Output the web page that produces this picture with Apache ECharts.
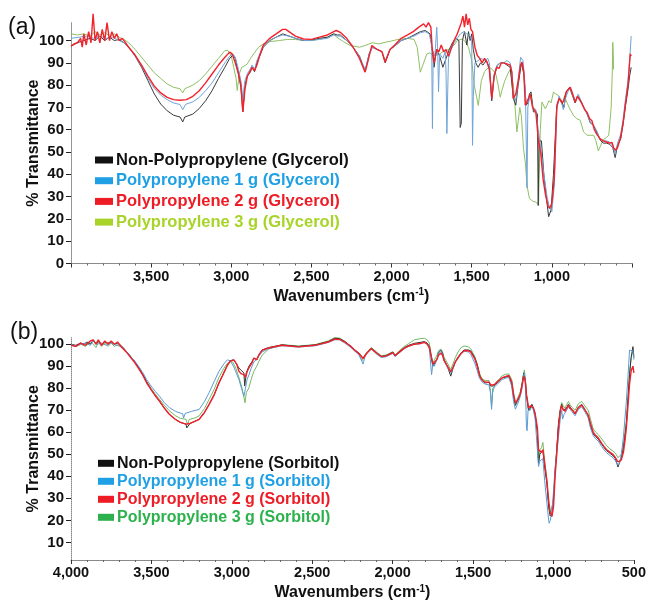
<!DOCTYPE html>
<html>
<head>
<meta charset="utf-8">
<script src="https://cdn.jsdelivr.net/npm/echarts@6/dist/echarts.min.js"></script>
<style>
html,body{margin:0;padding:0;background:#fff;}
#c{width:649px;height:602px;}
</style>
</head>
<body>
<div id="c"></div>
<script>
// ---------- Tick labels ----------
const yTicksA = [0,10,20,30,40,50,60,70,80,90,100];
const yTicksB = [10,20,30,40,50,60,70,80,90,100];

// ---------- Series names ----------
const namesA = ['Non-Polypropylene (Glycerol)','Polypropylene 1 g (Glycerol)','Polypropylene 2 g (Glycerol)','Polypropylene 3 g (Glycerol)'];
const namesB = ['Non-Polypropylene (Sorbitol)','Polypropylene 1 g (Sorbitol)','Polypropylene 2 g (Sorbitol)','Polypropylene 3 g (Sorbitol)'];

// ---------- Panel (a): Glycerol  [wavenumber, %T] ----------
const glyNonPP = [[4000,97.5],[3960,99],[3920,100],[3880,101],[3850,100],[3820,102],[3790,100],[3760,101.5],[3730,100],[3700,100.5],[3670,99],[3640,97],[3600,93],[3560,88],[3520,82],[3480,76],[3440,71.5],[3400,68.5],[3360,66.5],[3320,65.7],[3303,63.5],[3290,65.7],[3240,67],[3200,69.5],[3160,73],[3120,77.5],[3080,83],[3040,88],[3010,92],[2990,93.5],[2975,92],[2955,85],[2940,79],[2928,68],[2915,80],[2900,84],[2880,86],[2870,88],[2855,86],[2840,90],[2800,97],[2760,100],[2720,101.5],[2680,103],[2640,102],[2600,101],[2550,100],[2500,100.2],[2450,101],[2400,101.5],[2360,103],[2340,102.5],[2320,102.5],[2280,100],[2240,97],[2200,93],[2165,86],[2140,94],[2120,97],[2090,96],[2060,95],[2040,90],[2010,96],[1980,97.5],[1940,100],[1900,101],[1860,102.5],[1820,104],[1790,104.5],[1760,103],[1745,95],[1735,88],[1720,96],[1700,93],[1680,88],[1660,92],[1640,96],[1620,99],[1600,101],[1580,100],[1572,61],[1565,63],[1558,100],[1545,104],[1530,98],[1520,104],[1510,100],[1500,103],[1490,96],[1475,90],[1460,88],[1445,90],[1430,89],[1410,91],[1390,88],[1375,73],[1360,84],[1340,89],[1320,90],[1300,90],[1280,89],[1260,88],[1240,74],[1225,71],[1210,80],[1190,90],[1175,85],[1160,71],[1150,72],[1140,76],[1130,77],[1115,68],[1100,68],[1090,67],[1085,26],[1080,55],[1065,55],[1050,40],[1035,30],[1020,21],[1005,24],[990,40],[970,70],[955,74],[940,73],[925,70],[910,77],[890,79],[870,75],[855,72],[840,75],[825,74],[800,70],[780,67],[760,63],[740,62],[720,59],[700,55.5],[680,54],[660,54],[640,53.5],[620,52],[605,47.5],[590,53],[570,56],[555,63],[540,71],[525,78],[515,84],[505,88]];

const glyPP1 = [[4000,101],[3950,101.5],[3900,102],[3860,101],[3820,102],[3780,101],[3740,101.5],[3700,100],[3670,99],[3640,97],[3600,93],[3560,88.5],[3520,83],[3480,78.5],[3440,75.5],[3400,73.5],[3360,72],[3320,71.3],[3303,69],[3285,71.4],[3240,72.5],[3200,74.5],[3160,77.5],[3120,81],[3080,85.5],[3040,90],[3010,93],[2990,94],[2975,92.5],[2955,87],[2940,82],[2928,74],[2915,82],[2900,85],[2880,87.5],[2870,89],[2855,87],[2840,91],[2800,97.5],[2760,100],[2720,101.5],[2680,102.5],[2640,102],[2600,101],[2550,100],[2500,100],[2450,100.5],[2400,101],[2360,102.5],[2340,102],[2320,102],[2280,100],[2240,97],[2200,93],[2165,87],[2140,94],[2120,97],[2090,96],[2060,95],[2040,91],[2010,96],[1980,97.5],[1940,100],[1900,101],[1860,102],[1820,103.5],[1790,104],[1765,103],[1750,98],[1745,60.5],[1740,95],[1730,93],[1718,106],[1712,95],[1707,77],[1700,94],[1680,92],[1665,95],[1660,85],[1655,58.3],[1650,76],[1645,92],[1630,96],[1610,99],[1590,101],[1570,103],[1550,104],[1530,103],[1510,102],[1500,100],[1495,53],[1490,75],[1480,90],[1460,91],[1440,92],[1420,91],[1400,92],[1390,90],[1375,75],[1360,85],[1340,89],[1320,90],[1300,90],[1280,91],[1260,90],[1248,85],[1240,76],[1225,73],[1210,82],[1195,92.5],[1180,91],[1165,78],[1155,34],[1150,70],[1135,76],[1120,70],[1100,69],[1085,60],[1070,52],[1050,40],[1030,30],[1015,25],[1000,23.2],[985,35],[970,68],[955,75],[940,72],[928,69],[915,74],[895,78],[880,78],[865,74],[850,73],[835,76],[820,73],[800,70],[780,67],[760,63.5],[740,62],[720,59.5],[700,56],[680,55],[660,55],[640,54.5],[620,53],[605,49],[590,54],[570,58],[555,65],[540,74],[525,82],[515,91],[505,102]];

const glyPP2 = [[4000,97.5],[3980,98.5],[3960,99],[3940,101],[3930,97],[3920,103],[3905,98],[3890,104],[3875,99],[3862,112],[3850,100],[3835,104],[3820,99],[3805,105],[3790,100],[3775,108],[3760,100],[3745,104],[3730,101],[3715,103],[3700,100],[3680,101],[3660,99],[3640,97],[3600,93.5],[3560,89],[3520,84],[3480,79.5],[3440,76.5],[3400,74.5],[3360,73.5],[3320,73.2],[3280,73.5],[3240,75],[3200,77.5],[3160,81],[3120,85],[3080,89],[3040,92.5],[3010,94.8],[2995,94],[2975,90],[2955,85],[2940,80],[2928,68],[2915,78],[2900,84],[2885,86],[2870,88],[2855,86.5],[2840,89],[2820,94],[2800,98],[2760,101],[2720,103],[2680,105],[2660,105],[2640,104],[2600,102],[2550,100.7],[2500,100.5],[2450,101.5],[2400,102.5],[2360,104],[2345,104.5],[2320,103.7],[2280,101],[2240,97],[2200,92],[2165,85.8],[2150,90],[2123,97.8],[2090,96],[2060,95],[2040,90.3],[2010,96],[1980,98],[1940,101],[1900,102.5],[1865,104],[1830,106],[1800,107.5],[1785,106],[1770,108],[1755,106],[1747,97],[1735,90],[1718,96],[1705,95],[1690,98],[1675,95],[1660,96],[1645,93],[1630,96],[1610,100],[1590,103],[1575,106],[1565,108],[1555,111],[1545,106],[1535,112],[1525,107],[1515,110],[1505,105],[1495,104],[1480,97],[1465,93.3],[1450,92],[1435,90],[1420,92],[1405,90.5],[1390,87],[1375,74],[1360,84],[1345,88],[1330,87.5],[1315,90],[1300,90],[1280,89.5],[1260,89],[1250,86],[1241,74],[1225,76],[1210,82],[1195,89],[1186,90.3],[1175,86],[1166,71],[1155,71],[1140,75],[1135,76.1],[1120,70],[1100,68],[1090,60],[1083,54.5],[1070,50],[1055,38],[1040,31],[1025,26],[1014,24.7],[1000,27],[985,38],[969,70.9],[955,74],[947,73.9],[935,72],[927,73],[910,77],[885,79.1],[870,76],[854,72.4],[840,75],[833,75.4],[815,72],[795,69],[781,67.9],[765,65],[750,64],[735,60],[720,58],[700,56],[680,55],[660,54.5],[640,54],[625,54.3],[615,52],[604,50.8],[590,52],[573,56],[555,63],[542,70.9],[525,80],[511,94],[505,93]];

const glyPP3 = [[4000,103],[3960,102.5],[3920,103],[3880,102],[3850,104],[3820,102.5],[3790,103.5],[3760,102],[3730,103],[3700,101.5],[3670,100.5],[3640,99],[3600,96],[3560,92.5],[3520,89],[3480,85.5],[3440,83],[3400,80.5],[3360,79],[3320,78.4],[3303,76.5],[3290,78.4],[3240,80],[3200,82],[3160,85],[3120,88.5],[3080,92],[3040,95.5],[3020,95.5],[3000,93],[2985,88],[2970,83],[2963,77.6],[2950,85],[2935,88],[2920,88.5],[2900,89.5],[2880,92],[2860,94],[2830,97],[2800,98.5],[2760,99.5],[2700,100],[2650,100.5],[2600,100.5],[2550,100],[2500,100],[2450,100.7],[2400,101.5],[2363,103],[2342,101.5],[2300,99.5],[2258,97.8],[2200,97],[2165,97.8],[2120,99],[2080,98.5],[2040,99.2],[2000,99.8],[1960,100.5],[1936,100.7],[1900,101],[1860,100.5],[1840,97],[1821,85.8],[1800,90],[1780,94],[1760,94.5],[1740,93],[1720,93.5],[1700,94],[1680,95],[1660,95.5],[1634,96.3],[1610,98],[1590,100],[1560,100.7],[1540,99.5],[1520,97],[1500,91],[1484,80],[1470,75],[1459,70.9],[1440,82],[1420,86],[1405,87.3],[1390,88],[1370,87],[1350,85],[1335,80],[1322,74.6],[1310,78],[1295,81.7],[1275,85],[1260,87],[1240,79.9],[1218,59],[1200,70],[1190,66],[1177,51.5],[1165,45],[1155,35],[1140,29.2],[1120,28],[1100,27.5],[1083,26.5],[1072,60],[1062,72.4],[1041,69.4],[1030,71],[1018,73],[1005,72],[990,76.9],[975,76],[958,75.4],[940,73],[927,72.4],[921,75],[905,72],[885,69],[865,66.4],[845,65],[823,64.2],[802,59],[780,57.5],[760,57.5],[739,57.5],[725,55],[710,50.5],[695,53],[680,55.5],[660,56.5],[645,57.5],[630,70],[623,86],[620,99.2],[617,95],[615,87]];

// ---------- Panel (b): Sorbitol  [wavenumber, %T] ----------
const sorNonPP = [[4000,100],[3970,99.5],[3940,100.5],[3920,100],[3900,101],[3880,100],[3862,102],[3845,100],[3830,101.5],[3810,100],[3790,101],[3770,100.5],[3750,101],[3730,100],[3710,100.5],[3690,99.5],[3670,98],[3656,96.7],[3630,94.5],[3605,92.2],[3580,89.5],[3553,86.2],[3530,83],[3502,79.4],[3475,76.5],[3450,74.2],[3420,71],[3389,68.2],[3350,65.8],[3320,64.5],[3285,63.7],[3280,62],[3260,64],[3230,65],[3203,65.9],[3170,69],[3141,72.7],[3110,77],[3080,82.4],[3050,87],[3028,90.5],[3010,92.5],[2990,92.9],[2975,91.5],[2956,89.2],[2940,88],[2925,87],[2920,81],[2910,87],[2894,90],[2875,92],[2863,93.7],[2845,93],[2833,95],[2812,97.4],[2771,98.5],[2689,99.7],[2586,99],[2482,99.7],[2400,101.2],[2360,102.7],[2349,103.4],[2330,102.5],[2297,101.2],[2260,99],[2235,97.4],[2210,96],[2184,93.7],[2160,96],[2133,98.2],[2100,96],[2071,94.4],[2045,94.8],[2030,95.2],[1999,96.4],[1985,94.8],[1960,96.5],[1927,98.5],[1900,99.5],[1865,100.4],[1830,100.8],[1803,101.2],[1785,100.5],[1772,99],[1760,94],[1750,90],[1741,89.2],[1725,93],[1715,96],[1701,97.4],[1690,96],[1680,93],[1660,90],[1639,85.5],[1625,89],[1610,92],[1597,93.7],[1575,96],[1556,97.4],[1530,97.4],[1515,97],[1490,94],[1474,90.7],[1460,86],[1453,84.7],[1440,83.2],[1422,82.4],[1410,82.8],[1401,82.7],[1390,81],[1385,80.2],[1375,81],[1361,81.7],[1340,83],[1319,84.7],[1300,85],[1278,85.5],[1260,82],[1248,76],[1237,72.2],[1225,74],[1212,76],[1206,77.2],[1195,82],[1185,87],[1181,87.7],[1175,84],[1168,76],[1164,75],[1155,70],[1145,71],[1134,72.7],[1125,71],[1114,68.2],[1100,60],[1093,45.7],[1085,50],[1075,50],[1066,52],[1055,44],[1041,36.7],[1030,26],[1021,22],[1010,23],[1000,30],[990,42.7],[980,52],[969,63.7],[958,70],[949,72.7],[940,70],[928,69.7],[918,71],[907,72.7],[897,71.5],[887,70.5],[875,70],[866,68.3],[855,70],[845,71.5],[835,72],[825,72.7],[810,71],[795,69],[784,67.4],[770,63],[753,59.2],[737,58],[722,56.9],[700,54.5],[685,53],[671,51.7],[650,50.5],[630,49.4],[615,48],[599,44.2],[590,46],[578,48.7],[565,53],[556,58],[547,63.7],[537,75],[527,86.2],[517,94],[506,98.9],[500,94]];

const sorPP1 = [[4000,100],[3970,99],[3940,100],[3910,100.5],[3880,99.5],[3862,101.5],[3840,100],[3810,100.5],[3780,99.5],[3750,100.5],[3720,99.5],[3690,99],[3670,97.5],[3656,96.7],[3630,94.5],[3605,92.5],[3580,90],[3553,87],[3530,84],[3502,81],[3475,78.5],[3450,76.4],[3420,73.5],[3389,71.2],[3350,69.5],[3320,68.7],[3306,68.5],[3300,66.5],[3290,68.6],[3250,69.5],[3203,70.4],[3170,74],[3141,78],[3110,83],[3080,87.7],[3050,91],[3028,92.9],[3010,92.5],[2990,90],[2970,86.5],[2956,84],[2940,80],[2925,76.4],[2915,80],[2905,84],[2894,86],[2880,89],[2863,92],[2845,93],[2833,94.5],[2812,96.5],[2771,98],[2689,99.3],[2586,98.7],[2482,99.3],[2400,100.8],[2360,102],[2349,102.8],[2330,102],[2297,100.5],[2260,98.5],[2235,96.8],[2210,95.2],[2190,92],[2184,91],[2170,95],[2133,97.8],[2100,95.5],[2071,94],[2045,94.2],[2030,94.7],[1999,95.8],[1985,94.3],[1960,96],[1927,98],[1900,99],[1865,100],[1830,100.2],[1803,100.8],[1785,100],[1772,98],[1758,86.2],[1748,92],[1741,90],[1725,93],[1715,96],[1701,97],[1690,95.5],[1680,92.5],[1660,89.5],[1639,87],[1625,89],[1610,92],[1597,93.2],[1575,95.5],[1556,96.8],[1530,96.5],[1515,95.5],[1490,91.5],[1474,88],[1460,84.5],[1453,83.7],[1440,82.5],[1422,81.8],[1410,82],[1401,81.5],[1392,78],[1385,70.4],[1378,80],[1361,81],[1340,82.5],[1319,84],[1300,84.5],[1278,85],[1260,81],[1248,74],[1237,70.5],[1225,72.5],[1212,75],[1206,76.5],[1195,80],[1185,86],[1181,87],[1175,82],[1168,62],[1164,60.7],[1158,70],[1145,70],[1134,72],[1125,70],[1114,66],[1100,52],[1093,44.5],[1085,47],[1075,47],[1066,48],[1055,38],[1041,28],[1030,20],[1027,18.7],[1020,20],[1010,24],[1000,33],[990,44],[980,50],[969,58],[958,66],[949,70],[943,66],[935,68],[928,68.5],[918,70],[907,71.5],[897,70.5],[887,69.5],[875,69],[866,67.5],[855,69],[845,70.5],[835,71],[825,71.5],[810,70],[795,68],[784,66.5],[770,62],[753,58.5],[737,57],[722,56],[700,53.5],[685,52],[671,50.8],[650,49.5],[630,48.5],[615,47],[599,45],[590,46],[578,50],[565,58],[556,66],[547,74],[537,85],[527,97.3],[517,98],[506,97],[500,93]];

const sorPP2 = [[4000,99.5],[3970,99],[3940,100.5],[3910,99.5],[3880,101.5],[3862,102],[3845,100],[3830,102],[3810,99.5],[3790,101.5],[3770,100],[3750,101.5],[3730,100],[3710,101],[3690,99],[3670,97.5],[3656,96.5],[3630,94],[3605,91.8],[3580,89],[3553,85.8],[3530,82.5],[3502,79.4],[3475,76.5],[3450,74.2],[3420,71],[3389,68.2],[3350,65.8],[3320,64.5],[3285,63.7],[3260,64],[3230,65],[3203,65.9],[3170,69],[3141,72.7],[3110,77],[3080,82.4],[3050,87],[3028,90.3],[3010,92.3],[2987,92.9],[2970,91],[2956,87.7],[2940,86.5],[2925,86.2],[2915,85],[2905,87.5],[2894,89.2],[2875,91.5],[2863,93.7],[2845,93],[2833,95],[2812,97.2],[2771,98.3],[2689,99.5],[2586,98.8],[2482,99.5],[2400,101],[2360,102.3],[2349,102.7],[2330,102.2],[2297,101],[2260,99],[2235,97.2],[2210,95.8],[2184,93.5],[2160,96],[2133,98],[2100,96],[2071,94.4],[2045,94.6],[2030,95],[1999,96.2],[1985,94.8],[1960,96.3],[1927,98.2],[1900,99.2],[1865,100],[1830,100.3],[1803,100.8],[1785,100],[1772,98.5],[1760,94.5],[1750,91],[1741,90.7],[1725,93],[1715,95],[1701,96],[1690,95],[1680,92.5],[1660,90],[1639,87.5],[1625,89.5],[1610,92],[1597,93.5],[1575,95.8],[1556,97],[1530,97],[1515,96.5],[1490,93.5],[1474,90],[1460,86],[1453,84.7],[1440,83.5],[1422,82.8],[1410,83],[1401,82.8],[1390,81.5],[1385,81],[1375,81.5],[1361,82],[1340,83.5],[1319,84.8],[1300,85.3],[1278,85.8],[1260,83],[1248,77],[1237,73.5],[1225,74.5],[1212,76.5],[1206,77.5],[1195,81.5],[1185,85.5],[1181,86.2],[1175,83],[1168,77],[1164,75.5],[1155,71],[1145,72],[1134,72.7],[1125,71.2],[1114,68.5],[1100,62],[1093,52],[1085,51.5],[1075,51],[1066,52],[1055,46],[1041,38],[1030,29],[1021,24],[1010,21.7],[1000,26],[990,40],[980,50],[969,62],[958,69.5],[949,72.2],[940,70.5],[928,69.5],[918,71],[907,72.3],[897,71],[887,70.2],[875,69.5],[866,68.5],[855,70],[845,71.2],[835,72],[825,72.3],[810,70.8],[795,69],[784,67.8],[770,64],[753,60],[737,58.5],[722,57.5],[700,55],[685,53.5],[671,52.2],[650,51],[630,50],[615,48.5],[599,46.5],[590,46],[578,47.5],[565,51],[556,56],[547,62],[537,72],[527,82],[517,88],[506,90],[500,87]];

const sorPP3 = [[4000,99.5],[3970,99],[3940,100],[3910,99],[3880,101],[3862,100],[3845,98.5],[3830,101],[3810,99],[3790,100.5],[3770,99],[3750,100.5],[3730,99],[3710,100],[3690,99],[3670,97.5],[3656,96.5],[3630,94.5],[3605,92.2],[3580,89.5],[3553,86.2],[3530,83],[3502,80],[3475,77.3],[3450,75],[3420,72.3],[3389,69.8],[3350,67.5],[3320,66.3],[3285,65.9],[3275,63.5],[3265,65.8],[3230,66.5],[3203,67.5],[3170,70.8],[3141,75],[3110,79.5],[3080,85],[3050,89],[3028,91.3],[3010,92],[2995,92],[2975,89],[2956,85],[2940,81],[2925,76],[2918,73.4],[2910,78],[2894,80.2],[2880,84],[2863,87.7],[2845,90],[2833,92],[2812,95],[2771,97.8],[2689,99.8],[2586,99.2],[2482,99.8],[2400,101.5],[2360,103],[2349,103.5],[2330,102.8],[2297,101.3],[2260,99],[2235,97.2],[2210,95.5],[2190,92.5],[2184,92],[2170,95.5],[2133,98.5],[2100,96.5],[2071,94.8],[2045,95],[2030,95.5],[1999,96.6],[1985,95],[1960,97],[1927,99],[1900,100.3],[1865,102],[1830,102.5],[1803,102.7],[1785,102],[1772,100.5],[1760,95],[1750,91.5],[1741,91],[1725,95],[1715,97],[1701,97.8],[1690,96.5],[1680,94],[1660,91.5],[1639,88.5],[1625,91],[1610,94],[1597,96],[1575,98.5],[1556,99.2],[1530,98.8],[1515,98],[1490,94.5],[1474,91],[1460,87],[1453,85.5],[1440,84],[1422,83.5],[1410,84],[1401,83.5],[1392,79],[1385,72],[1378,78],[1361,82.5],[1340,84],[1319,85.7],[1300,86.3],[1278,86.5],[1260,84],[1248,78],[1237,73],[1225,75],[1212,77.5],[1206,78.5],[1195,82.5],[1185,87],[1181,88.3],[1175,84],[1168,77],[1164,74],[1155,70],[1145,71],[1134,72.5],[1125,70.5],[1114,67.5],[1100,58],[1093,46],[1085,52],[1075,53],[1066,55.4],[1055,47],[1041,38],[1030,27],[1021,23],[1010,23],[1000,29],[990,41],[980,52],[969,64],[958,70.5],[949,73.5],[940,72],[928,71],[918,72.5],[907,74],[897,72.5],[887,71.5],[875,71],[866,70],[855,71.5],[845,73],[835,73.5],[825,74],[810,72.5],[795,71],[784,70],[770,66],[753,61.5],[737,60],[722,59],[700,57],[685,55.5],[671,54],[650,52.5],[630,51.5],[615,50.5],[599,48.5],[590,48],[578,50],[565,55],[556,60],[547,65],[537,76],[527,87],[517,94],[506,97],[500,95]];

// ---------- Styling ----------
const FONT = "'Liberation Sans', Arial, sans-serif";
const NARROW = "'Liberation Sans Narrow', 'Liberation Sans', Arial, sans-serif";
const lineColA = ['#3a3a3a', '#6fa3d8', '#f2232b', '#8fc063'];
const markColA = ['#111111', '#1fa0e4', '#ee1c25', '#a8d42a'];
const lineColB = ['#333333', '#5b9bd5', '#f0212a', '#76b866'];
const markColB = ['#111111', '#1fa0e4', '#ee1c25', '#2bb24c'];
const dataA = [glyNonPP, glyPP1, glyPP2, glyPP3];
const dataB = [sorNonPP, sorPP1, sorPP2, sorPP3];
const widths = [1, 1, 1.4, 1];
const drawOrder = [3, 0, 1, 2];

const fmt = v => Number(v).toLocaleString('en-US');

function xAxisCfg(gridIndex, showEnds, labelMargin) {
  return {
    type: 'value', gridIndex, inverse: true, min: 500, max: 4000, interval: 500,
    axisLine: { show: true, lineStyle: { color: '#8a8a8a', width: 1 } },
    axisTick: { show: true, length: 4, lineStyle: { color: '#333' } },
    minorTick: { show: true, splitNumber: 5, length: 2, lineStyle: { color: '#666' } },
    axisLabel: { formatter: fmt, fontFamily: FONT, fontWeight: 'bold', fontSize: 14.5, color: '#111',
      margin: labelMargin, showMinLabel: showEnds, showMaxLabel: showEnds },
    splitLine: { show: false }, minorSplitLine: { show: false },
    name: 'Wavenumbers (cm{sup|-1})', nameLocation: 'middle', nameGap: 24,
    nameTextStyle: { fontFamily: FONT, fontWeight: 'bold', fontSize: 16, color: '#111',
      rich: { sup: { fontFamily: FONT, fontWeight: 'bold', fontSize: 10, color: '#111', verticalAlign: 'top', lineHeight: 18 } } }
  };
}
function yAxisCfg(gridIndex, min, max, ticks) {
  return {
    type: 'value', gridIndex, min, max,
    axisLine: { show: true, lineStyle: { color: '#8a8a8a', type: 'dotted', width: 1 } },
    axisTick: { show: true, length: 5, customValues: ticks, lineStyle: { color: '#222' } },
    axisLabel: { customValues: ticks, fontFamily: NARROW, fontWeight: 'bold', fontSize: 15, color: '#111', margin: 7 },
    splitLine: { show: false },
    name: '% Transmittance', nameLocation: 'middle', nameRotate: 90, nameGap: 29, nameMoveOverlap: false,
    nameTextStyle: { fontFamily: FONT, fontWeight: 'bold', fontSize: 16, color: '#111' }
  };
}

const series = [];
drawOrder.forEach(i => {
  series.push({ name: namesA[i], type: 'line', xAxisIndex: 0, yAxisIndex: 0, data: dataA[i],
    showSymbol: false, symbol: 'none', clip: false, silent: true,
    itemStyle: { color: markColA[i] }, lineStyle: { color: lineColA[i], width: widths[i] } });
});
drawOrder.forEach(i => {
  series.push({ name: namesB[i], type: 'line', xAxisIndex: 1, yAxisIndex: 1, data: dataB[i],
    showSymbol: false, symbol: 'none', clip: false, silent: true,
    itemStyle: { color: markColB[i] }, lineStyle: { color: lineColB[i], width: widths[i] } });
});

function legendCfg(names, cols, left, top, fs, lh, gap, iw) {
  return {
    orient: 'vertical', left, top, padding: 0, itemGap: gap, itemWidth: iw, itemHeight: 7,
    icon: 'rect', selectedMode: false,
    data: names.map((n, i) => ({ name: n, icon: 'rect', itemStyle: { color: cols[i], borderWidth: 0 },
      textStyle: { color: cols[i] } })),
    textStyle: { fontFamily: FONT, fontWeight: 'bold', fontSize: fs, lineHeight: lh, padding: [0,0,0,-2] }
  };
}

const chart = echarts.init(document.getElementById('c'), null, { renderer: 'canvas' });
chart.setOption({
  animation: false,
  backgroundColor: '#ffffff',
  grid: [
    { left: 71, top: 22.7, width: 561, height: 240.8, containLabel: false },
    { left: 71, top: 337.6, width: 567, height: 224.5, containLabel: false }
  ],
  xAxis: [xAxisCfg(0, false, 6), xAxisCfg(1, true, 5)],
  yAxis: [yAxisCfg(0, 0, 108, yTicksA), yAxisCfg(1, 2, 103, yTicksB)],
  legend: [
    legendCfg(namesA, markColA, 95, 151.5, 16.5, 17, 3.7, 18),
    legendCfg(namesB, markColB, 98, 455.3, 16, 16, 2, 16)
  ],
  graphic: [
    { type: 'text', left: 8, top: 16, style: { text: '(a)', font: "23px 'Liberation Sans', Arial, sans-serif", fill: '#111' } },
    { type: 'text', left: 10, top: 321, style: { text: '(b)', font: "23px 'Liberation Sans', Arial, sans-serif", fill: '#111' } }
  ],
  series
});
</script>
</body>
</html>
